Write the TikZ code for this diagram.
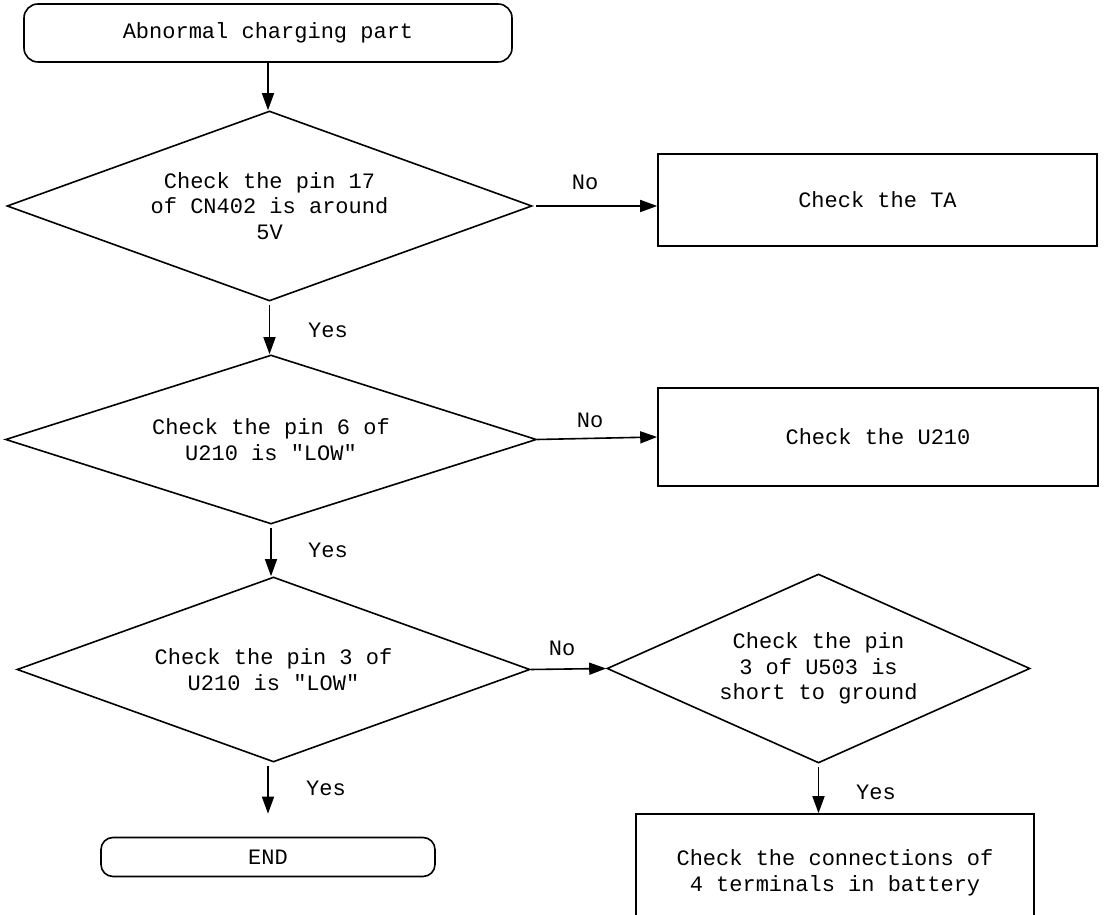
\documentclass[tikz,border=0pt]{standalone}
\usepackage{fontspec}
\setmainfont{Liberation Mono}
\usetikzlibrary{shapes.geometric,arrows.meta}
\begin{document}
\begin{tikzpicture}[x=1pt,y=1pt,
  every node/.style={font=\fontsize{22}{25.5}\selectfont, align=center},
  term/.style={draw, line width=1.6pt, rounded corners=14pt, inner sep=0pt},
  proc/.style={draw, line width=1.6pt, rectangle, inner sep=0pt},
  dec/.style={draw, line width=1.6pt, diamond, inner sep=0pt},
  flow/.style={line width=1.6pt, -{Triangle[length=17pt,width=12pt]}},
  lbl/.style={inner sep=0pt}
]
\useasboundingbox (0,0) rectangle (1113,915);
% nodes
\node[term, minimum width=488, minimum height=58] (start) at (268,882) {Abnormal charging part};
\node[dec, minimum width=525, minimum height=190, aspect=2.76] (d1) at (269.5,709) {Check the pin 17\\of CN402 is around\\5V};
\node[proc, minimum width=439, minimum height=92] (ta) at (877.5,715) {Check the TA};
\node[dec, minimum width=531, minimum height=169, aspect=3.14] (d2) at (271,475.5) {Check the pin 6 of\\U210 is \textquotedbl LOW\textquotedbl};
\node[proc, minimum width=440, minimum height=98] (u210) at (878,478) {Check the U210};
\node[dec, minimum width=513, minimum height=185, aspect=2.77] (d3) at (273.5,245.5) {Check the pin 3 of\\U210 is \textquotedbl LOW\textquotedbl};
\node[dec, minimum width=423, minimum height=189, aspect=2.24] (d4) at (818.5,246.5) {Check the pin\\3 of U503 is\\short to ground};
\node[proc, minimum width=398, minimum height=118] (batt) at (835,42) {Check the connections of\\4 terminals in battery};
\node[term, rounded corners=12pt, minimum width=334, minimum height=39] (end) at (268,58) {END};
% connectors
\draw[flow] (start.south) -- (start.south |- d1.north);
\draw[flow, shorten <=3pt] (d1.east) -- (ta.west |- d1.east);
\draw[flow, shorten <=3pt] (d1.south) -- (d1.south |- d2.north);
\draw[flow] (d2.east) -- (u210.west);
\draw[flow, shorten <=3pt] (d2.south) -- (d2.south |- d3.north);
\draw[flow] (d3.east) -- (d4.west);
\draw[flow, shorten <=3pt] (d4.south) -- (d4.south |- batt.north);
\draw[flow, shorten <=3pt, shorten >=23pt] (d3.south -| end.north) -- (end.north);
% labels
\node[lbl] (no1) at (585,733) {No};
\node[lbl] (yes1) at (328,585) {Yes};
\node[lbl] (no2) at (590,495) {No};
\node[lbl] (yes2) at (328,365) {Yes};
\node[lbl] (no3) at (562,267) {No};
\node[lbl] (yes3) at (326,127) {Yes};
\node[lbl] (yes4) at (876,123) {Yes};
\end{tikzpicture}
\end{document}
